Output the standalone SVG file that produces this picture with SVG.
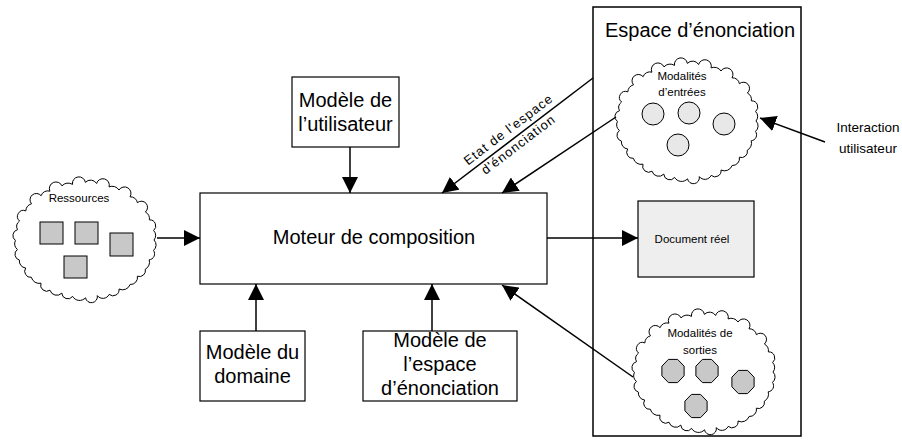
<svg xmlns="http://www.w3.org/2000/svg" width="902" height="447" viewBox="0 0 902 447">
<style>
  .box{fill:#fff;stroke:#000;stroke-width:1.2}
  .cloud{fill:#fff;stroke:#000;stroke-width:1}
  .sq{fill:#c8c8c8;stroke:#000;stroke-width:1}
  .circ{fill:#e8e8e8;stroke:#000;stroke-width:1}
  .oct{fill:#c8c8c8;stroke:#000;stroke-width:1}
  .t20{font-family:"Liberation Sans",Arial,sans-serif;font-size:20px;fill:#000;text-anchor:middle}
  .t12{font-family:"Liberation Sans",Arial,sans-serif;font-size:11.5px;fill:#000;text-anchor:middle}
  .t14{font-family:"Liberation Sans",Arial,sans-serif;font-size:13.5px;fill:#000;text-anchor:middle}
  .rot{font-family:"Liberation Sans",Arial,sans-serif;font-size:13px;letter-spacing:1px;fill:#000;text-anchor:middle}
  .conn{stroke:#000;stroke-width:1.5;fill:none;marker-end:url(#arrow)}
</style>
<defs>
  <marker id="arrow" markerUnits="userSpaceOnUse" markerWidth="16" markerHeight="16" refX="16" refY="8" orient="auto" viewBox="0 0 16 16">
    <path d="M0,0 L16,8 L0,16 Z" fill="#000"/>
  </marker>
  <path id="cloudShape" d="M69,0 A7,7 0 0 1 68.5,10.4 A6,6 0 0 1 64.2,19.8 A8,8 0 0 1 60.3,29.2 A6,6 0 0 1 52.4,36.2 A7,7 0 0 1 45.1,44.5 A8,8 0 0 1 34,49 A6,6 0 0 1 24.2,54.4 A7,7 0 0 1 12.3,55.6 A6,6 0 0 1 0.5,57.8 A8,8 0 0 1 -12.4,56.4 A6,6 0 0 1 -23.2,53.1 A7,7 0 0 1 -35,50.2 A6,6 0 0 1 -44,43.2 A8,8 0 0 1 -53.6,37.3 A6,6 0 0 1 -59.3,28 A7,7 0 0 1 -65.6,20.1 A6,6 0 0 1 -67.6,9.5 A8,8 0 0 1 -69.6,0.4 A6,6 0 0 1 -67.5,-10.3 A7,7 0 0 1 -65.4,-19 A6,6 0 0 1 -59.2,-29.1 A8,8 0 0 1 -53.5,-36.2 A6,6 0 0 1 -43.9,-44.3 A7,7 0 0 1 -35.1,-48.8 A6,6 0 0 1 -23,-54.1 A8,8 0 0 1 -12.5,-55.6 A6,6 0 0 1 0.4,-57.6 A7,7 0 0 1 11.6,-56.5 A6,6 0 0 1 24.1,-53.1 A8,8 0 0 1 34,-50 A6,6 0 0 1 45,-43.2 A7,7 0 0 1 52.4,-37.3 A6,6 0 0 1 60.4,-28 A8,8 0 0 1 64.4,-20.1 A6,6 0 0 1 68.6,-9.5 A7,7 0 0 1 69,0 Z"/>
  <polygon id="octShape" points="11.1,4.8 4.6,11.6 -4.6,11.6 -11.1,4.8 -11.1,-4.8 -4.6,-11.6 4.6,-11.6 11.1,-4.8"/>
</defs>

<g id="espace-enonciation">
  <rect x="593" y="7" width="208" height="429" fill="none" stroke="#000" stroke-width="1.5"/>
  <text class="t20" x="700" y="37">Espace d’énonciation</text>
</g>

<g id="ressources">
  <use href="#cloudShape" class="cloud" transform="translate(85,240)"/>
  <text class="t12" x="79" y="202">Ressources</text>
  <rect class="sq" x="40" y="222" width="23" height="22"/>
  <rect class="sq" x="75" y="222" width="23" height="22"/>
  <rect class="sq" x="110" y="233" width="23" height="23"/>
  <rect class="sq" x="64" y="256" width="23" height="22"/>
</g>

<g id="moteur">
  <rect class="box" x="200" y="193" width="347" height="91"/>
  <text class="t20" x="374" y="244">Moteur de composition</text>
</g>

<g id="modele-utilisateur">
  <rect class="box" x="292" y="77" width="107" height="70"/>
  <text class="t20" x="345.5" y="107">Modèle de</text>
  <text class="t20" x="345.5" y="131">l’utilisateur</text>
</g>

<g id="modele-domaine">
  <rect class="box" x="200" y="331" width="105" height="70"/>
  <text class="t20" x="252.5" y="359">Modèle du</text>
  <text class="t20" x="252.5" y="383">domaine</text>
</g>

<g id="modele-espace">
  <rect class="box" x="363" y="331" width="154" height="70"/>
  <text class="t20" x="440" y="347">Modèle de</text>
  <text class="t20" x="440" y="371">l’espace</text>
  <text class="t20" x="440" y="395">d’énonciation</text>
</g>

<g id="modalites-entrees">
  <use href="#cloudShape" class="cloud" transform="translate(687,121)"/>
  <text class="t12" x="682" y="80">Modalités</text>
  <text class="t12" x="682" y="96">d’entrées</text>
  <circle class="circ" cx="653" cy="114" r="11"/>
  <circle class="circ" cx="689" cy="113" r="11"/>
  <circle class="circ" cx="724" cy="124" r="11"/>
  <circle class="circ" cx="678" cy="145" r="11"/>
</g>

<g id="document-reel">
  <rect x="638" y="201" width="116" height="76" fill="#eeeeee" stroke="#000" stroke-width="1.2"/>
  <text class="t12" x="692" y="243">Document réel</text>
</g>

<g id="modalites-sorties">
  <use href="#cloudShape" class="cloud" transform="translate(704,372)"/>
  <text class="t12" x="700" y="337">Modalités de</text>
  <text class="t12" x="700" y="354">sorties</text>
  <use href="#octShape" class="oct" transform="translate(673,371)"/>
  <use href="#octShape" class="oct" transform="translate(707,371)"/>
  <use href="#octShape" class="oct" transform="translate(743,382)"/>
  <use href="#octShape" class="oct" transform="translate(696,406)"/>
</g>

<g id="interaction-utilisateur">
  <text class="t14" x="868" y="132">Interaction</text>
  <text class="t14" x="868" y="153">utilisateur</text>
</g>

<g id="connectors">
  <line class="conn" x1="157" y1="238" x2="200" y2="238"/>
  <line class="conn" x1="547" y1="238" x2="638" y2="238"/>
  <line class="conn" x1="350" y1="147" x2="350" y2="193"/>
  <line class="conn" x1="256" y1="331" x2="256" y2="284"/>
  <line class="conn" x1="432" y1="331" x2="432" y2="284"/>
  <line class="conn" x1="593" y1="78" x2="442" y2="193"/>
  <line class="conn" x1="616" y1="117" x2="502" y2="193"/>
  <line class="conn" x1="633" y1="377" x2="502" y2="285"/>
  <line class="conn" x1="825" y1="142" x2="760" y2="118"/>
  <text class="rot" transform="translate(511,133) rotate(-37.3)">Etat de l'espace</text>
  <text class="rot" transform="translate(521,148) rotate(-37.3)">d'énonciation</text>
</g>
</svg>
